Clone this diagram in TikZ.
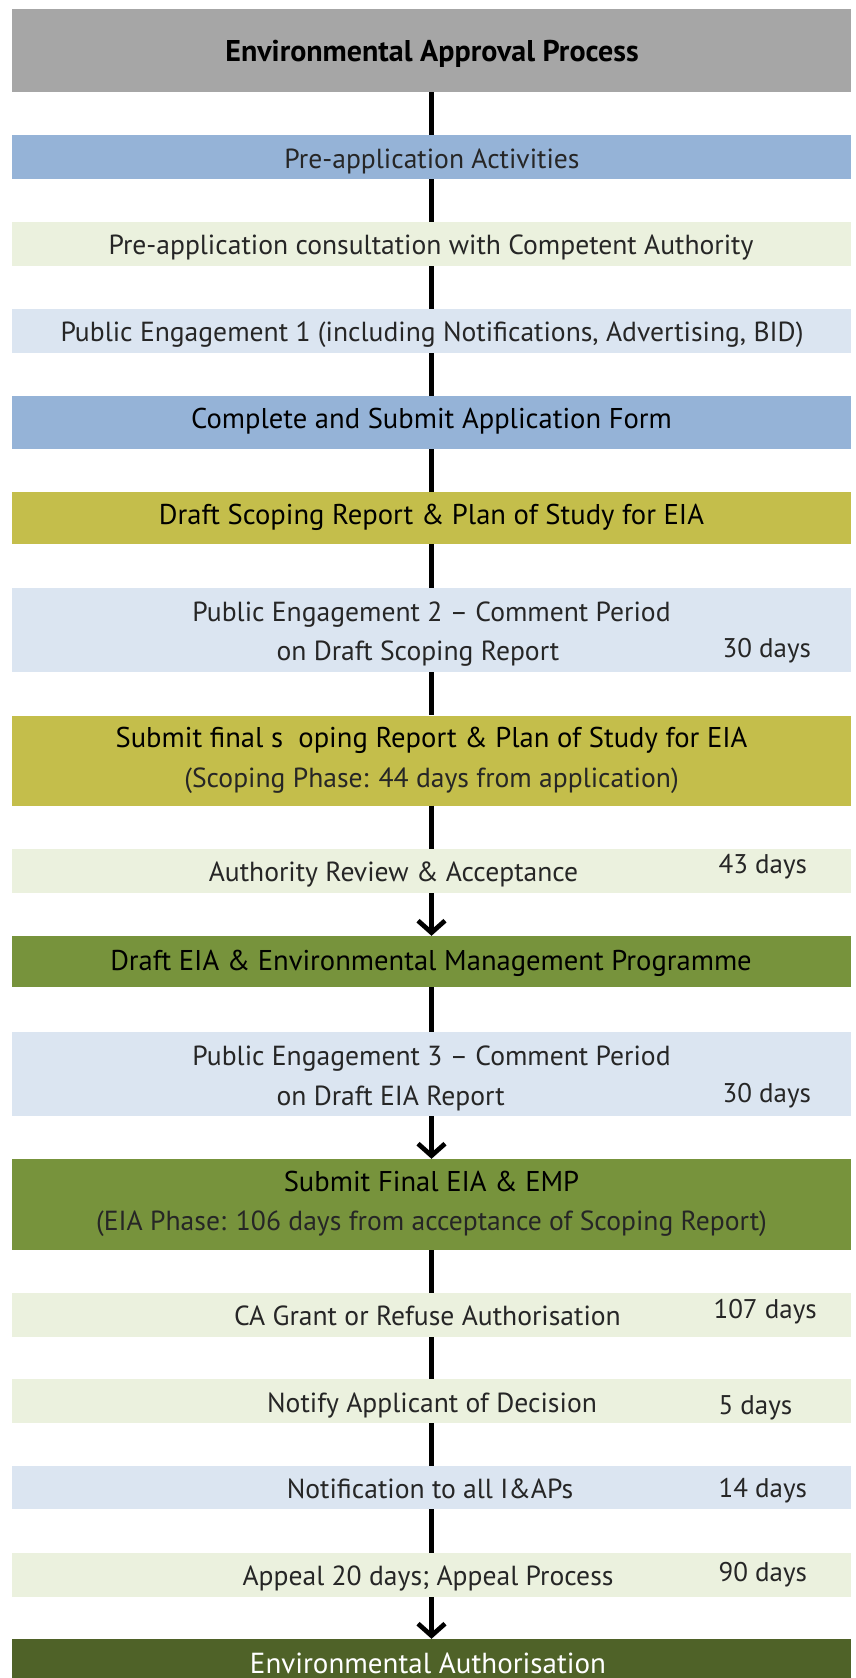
\documentclass[tikz,border=0pt]{standalone}
\usepackage{fontspec}
\setmainfont{PT Sans}
\usetikzlibrary{arrows.meta}
\definecolor{headgray}{HTML}{A6A6A6}
\definecolor{midblue}{HTML}{95B3D7}
\definecolor{paleblue}{HTML}{DBE5F1}
\definecolor{palegreen}{HTML}{EBF1DE}
\definecolor{scopeolive}{RGB}{196,190,75}
\definecolor{eiagreen}{HTML}{77933C}
\definecolor{authgreen}{HTML}{4F6228}
\begin{document}
\begin{tikzpicture}[x=1pt, y=-1pt,
	stage/.style={rectangle, inner sep=0pt, minimum width=839pt},
	title/.style={font=\fontsize{30}{34}\bfseries\selectfont, anchor=base},
	thin/.style={font=\fontsize{27.6}{32}\selectfont, text=black!85, anchor=base},
	plain/.style={font=\fontsize{28.6}{33}\selectfont, anchor=base},
	days/.style={font=\fontsize{27}{31}\selectfont, text=black!85, anchor=base west},
	link/.style={line width=4.7pt},
	flow/.style={line width=4.7pt, -{Straight Barb[length=12pt,width=27pt]}}]
	\clip (0, 0) rectangle (856, 1678);

	% stages, top to bottom
	\node[stage, fill=headgray, minimum height=83pt] (head) at (431.5, 50.5) {};
	\node[stage, fill=midblue, minimum height=44pt] (preapp) at (431.5, 157) {};
	\node[stage, fill=palegreen, minimum height=44pt] (consult) at (431.5, 244) {};
	\node[stage, fill=paleblue, minimum height=44pt] (pe1) at (431.5, 331) {};
	\node[stage, fill=midblue, minimum height=53pt] (apply) at (431.5, 422.5) {};
	\node[stage, fill=scopeolive, minimum height=52pt] (draftscope) at (431.5, 518) {};
	\node[stage, fill=paleblue, minimum height=84pt] (pe2) at (431.5, 630) {};
	\node[stage, fill=scopeolive, minimum height=90pt] (finalscope) at (431.5, 760.5) {};
	\node[stage, fill=palegreen, minimum height=44pt] (review) at (431.5, 871) {};
	\node[stage, fill=eiagreen, minimum height=51pt] (drafteia) at (431.5, 961.5) {};
	\node[stage, fill=paleblue, minimum height=84pt] (pe3) at (431.5, 1074) {};
	\node[stage, fill=eiagreen, minimum height=91pt] (finaleia) at (431.5, 1204.5) {};
	\node[stage, fill=palegreen, minimum height=44pt] (grant) at (431.5, 1315) {};
	\node[stage, fill=palegreen, minimum height=44pt] (notify) at (431.5, 1401) {};
	\node[stage, fill=paleblue, minimum height=43pt] (iaps) at (431.5, 1487.5) {};
	\node[stage, fill=palegreen, minimum height=44pt] (appeal) at (431.5, 1575) {};
	\node[stage, fill=authgreen, minimum height=61pt] (auth) at (431.5, 1669.5) {};

	% texts
	\node[title] (head-t) at (432, 62) {Environmental Approval Process};
	\node[thin] (preapp-t) at (432, 168) {Pre-application Activities};
	\node[thin] (consult-t) at (431, 254) {Pre-application consultation with Competent Authority};
	\node[thin] (pe1-t) at (432, 341) {Public Engagement 1 (including Notifications, Advertising, BID)};
	\node[plain] (apply-t) at (431.5, 428) {Complete and Submit Application Form};
	\node[plain] (draftscope-t) at (431.5, 524.5) {Draft Scoping Report \& Plan of Study for EIA};
	\node[thin] (pe2-a) at (431.5, 621) {Public Engagement 2 -- Comment Period};
	\node[thin, anchor=base west] (pe2-b) at (273, 660.5) {on Draft Scoping Report};
	\node[days] (pe2-d) at (719, 657) {30 days};
	\node[plain] (finalscope-a) at (431.5, 747.5) {Submit final s\ \ oping Report \& Plan of Study for EIA};
	\node[thin] (finalscope-b) at (431.5, 787) {(Scoping Phase: 44 days from application)};
	\node[thin] (review-t) at (393.5, 881.5) {Authority Review \& Acceptance};
	\node[days] (review-d) at (715, 873) {43 days};
	\node[plain] (drafteia-t) at (431, 970) {Draft EIA \& Environmental Management Programme};
	\node[thin] (pe3-a) at (431.5, 1065) {Public Engagement 3 -- Comment Period};
	\node[thin, anchor=base west] (pe3-b) at (273, 1105) {on Draft EIA Report};
	\node[days] (pe3-d) at (719, 1102) {30 days};
	\node[plain] (finaleia-a) at (431.5, 1191.5) {Submit Final EIA \& EMP};
	\node[thin] (finaleia-b) at (431.5, 1230) {(EIA Phase: 106 days from acceptance of Scoping Report)};
	\node[thin] (grant-t) at (427.5, 1325.5) {CA Grant or Refuse Authorisation};
	\node[days] (grant-d) at (710, 1318) {107 days};
	\node[thin] (notify-t) at (432, 1412.5) {Notify Applicant of Decision};
	\node[days] (notify-d) at (715, 1414) {5 days};
	\node[thin] (iaps-t) at (430, 1498.5) {Notification to all I\&APs};
	\node[days] (iaps-d) at (715, 1497) {14 days};
	\node[thin] (appeal-t) at (428, 1585.5) {Appeal 20 days; Appeal Process};
	\node[days] (appeal-d) at (715, 1581) {90 days};
	\node[thin, font=\fontsize{29}{33}\selectfont, text=white] (auth-t) at (428, 1673) {Environmental Authorisation};

	% connectors
	\draw[link] (head) -- (preapp);
	\draw[link] (preapp) -- (consult);
	\draw[link] (consult) -- (pe1);
	\draw[link] (pe1) -- (apply);
	\draw[link] (apply) -- (draftscope);
	\draw[link] (draftscope) -- (pe2);
	\draw[link] (pe2) -- (finalscope);
	\draw[link] (finalscope) -- (review);
	\draw[flow] (review) -- (drafteia);
	\draw[link] (drafteia) -- (pe3);
	\draw[flow] (pe3) -- (finaleia);
	\draw[link] (finaleia) -- (grant);
	\draw[link] (grant) -- (notify);
	\draw[link] (notify) -- (iaps);
	\draw[link] (iaps) -- (appeal);
	\draw[flow] (appeal) -- (auth);
\end{tikzpicture}
\end{document}
